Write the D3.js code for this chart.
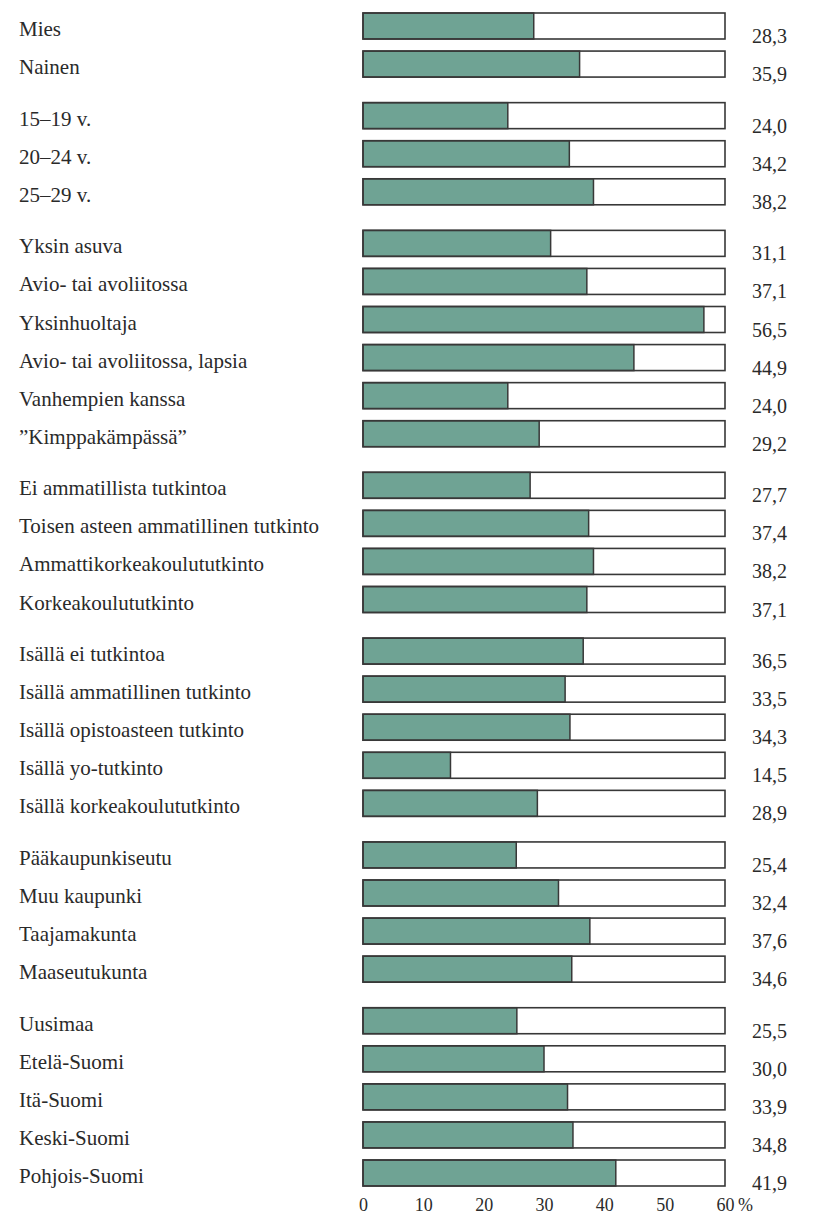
<!DOCTYPE html>
<html><head><meta charset="utf-8">
<script src="https://cdn.jsdelivr.net/npm/d3@7"></script>
<style>body{margin:0;background:#fff}svg{display:block}</style>
</head><body><svg id="c" width="821" height="1215"></svg>
<script>
const categories = [
  "Mies","Nainen",
  "15–19 v.","20–24 v.","25–29 v.",
  "Yksin asuva","Avio- tai avoliitossa","Yksinhuoltaja","Avio- tai avoliitossa, lapsia","Vanhempien kanssa","”Kimppakämpässä”",
  "Ei ammatillista tutkintoa","Toisen asteen ammatillinen tutkinto","Ammattikorkeakoulututkinto","Korkeakoulututkinto",
  "Isällä ei tutkintoa","Isällä ammatillinen tutkinto","Isällä opistoasteen tutkinto","Isällä yo-tutkinto","Isällä korkeakoulututkinto",
  "Pääkaupunkiseutu","Muu kaupunki","Taajamakunta","Maaseutukunta",
  "Uusimaa","Etelä-Suomi","Itä-Suomi","Keski-Suomi","Pohjois-Suomi"
];
const values = [
  28.3,35.9,
  24.0,34.2,38.2,
  31.1,37.1,56.5,44.9,24.0,29.2,
  27.7,37.4,38.2,37.1,
  36.5,33.5,34.3,14.5,28.9,
  25.4,32.4,37.6,34.6,
  25.5,30.0,33.9,34.8,41.9
];
const groups = [0,0,1,1,1,2,2,2,2,2,2,3,3,3,3,4,4,4,4,4,5,5,5,5,6,6,6,6,6];
const tickValues = [0,10,20,30,40,50,60];
const unitLabel = "%";

const svg = d3.select("#c");
const FONT = "'Liberation Serif','Times New Roman',serif";
const TEXT = "#2a2a2a";
const TEAL = "#6fa394";
const EDGE = "#383838";

const gapUnits = 0.355;
const slot = categories.map((c,i)=> i + groups[i]*gapUnits);
const maxSlot = d3.max(slot);
const y = d3.scaleLinear().domain([0, maxSlot]).range([26, 1173]);
const x = d3.scaleLinear().domain([0, 60]).range([363, 725]);
const barH = 26;
const fmt = v => d3.format(".1f")(v).replace(".", ",");

const rows = svg.append("g").selectAll("g").data(categories).join("g")
  .attr("transform", (d,i)=>`translate(0,${y(slot[i])})`);

rows.append("rect")
  .attr("x", x(0)).attr("y", -barH/2)
  .attr("width", x(60)-x(0)).attr("height", barH)
  .attr("fill", "#fff");

rows.append("rect")
  .attr("x", x(0)).attr("y", -barH/2)
  .attr("width", (d,i)=> x(values[i]) - x(0)).attr("height", barH)
  .attr("fill", TEAL).attr("stroke", EDGE).attr("stroke-width", 1.5);

rows.append("rect")
  .attr("x", x(0)).attr("y", -barH/2)
  .attr("width", x(60)-x(0)).attr("height", barH)
  .attr("fill", "none").attr("stroke", EDGE).attr("stroke-width", 1.6);

rows.append("text")
  .attr("x", 19).attr("y", 10)
  .attr("font-family", FONT).attr("font-size", 21).attr("fill", TEXT)
  .text(d=>d);

rows.append("text")
  .attr("x", 752).attr("y", 17)
  .attr("font-family", FONT).attr("font-size", 20).attr("fill", TEXT)
  .text((d,i)=> fmt(values[i]));

// axis
const axisY = 1211;
const axis = d3.axisBottom(x).tickValues(tickValues).tickSize(0).tickPadding(0)
  .tickFormat(d=> String(d));
const ag = svg.append("g").attr("transform", `translate(0,${axisY - 14})`).call(axis);
ag.select(".domain").remove();
ag.selectAll("text").attr("font-family", FONT).attr("font-size", 18).attr("fill", TEXT)
  .attr("dy", null).attr("y", 14);
const lastText = ag.selectAll(".tick text").filter(d=>d===60);
const w = lastText.node().getComputedTextLength();
ag.append("text").attr("x", x(60) + w/2 + 4).attr("y", 14)
  .attr("font-family", FONT).attr("font-size", 18).attr("fill", TEXT)
  .attr("text-anchor", "start").text(unitLabel);
</script>
</body></html>
